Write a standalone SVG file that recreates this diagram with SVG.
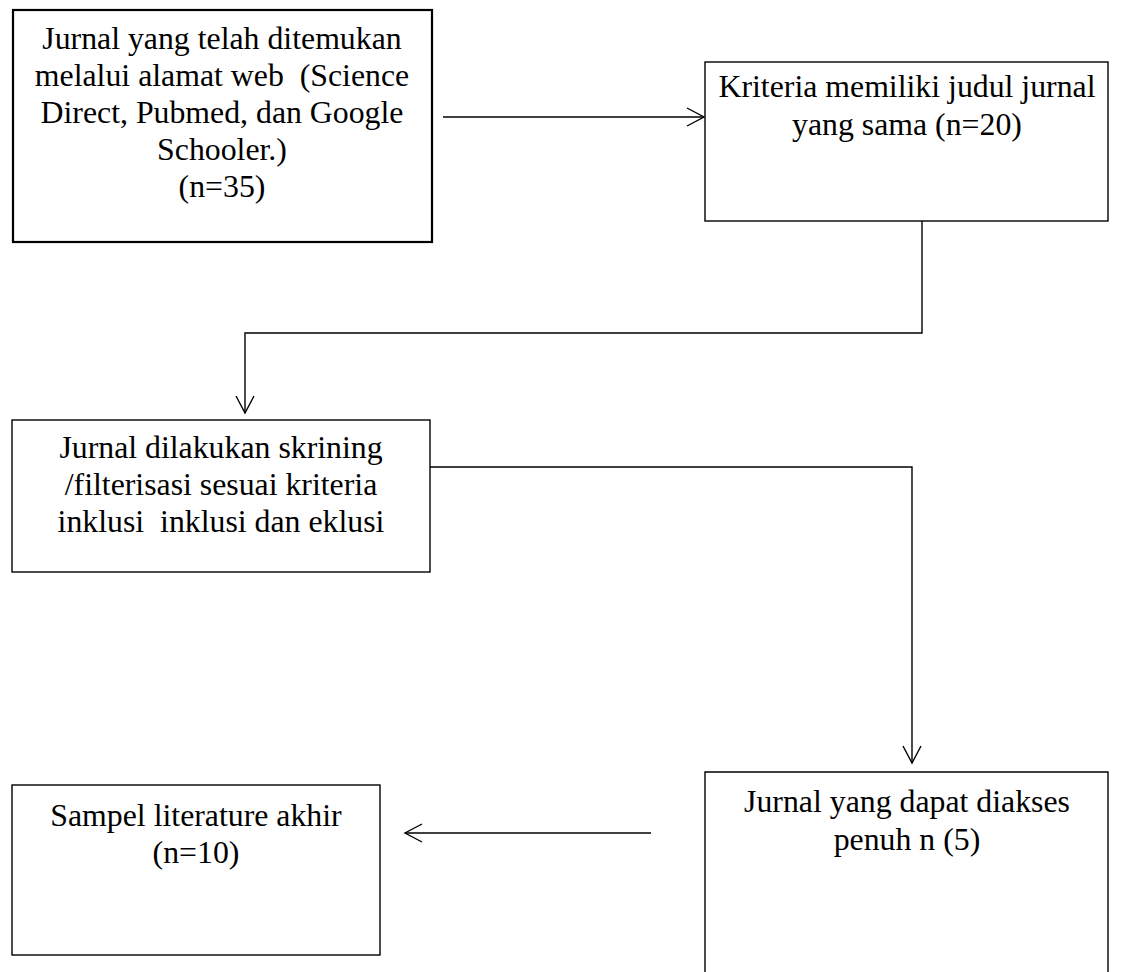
<svg xmlns="http://www.w3.org/2000/svg" width="1133" height="972" viewBox="0 0 1133 972">
<style>
.box{fill:#fff;stroke:#000;stroke-width:1.4}
.thick{stroke-width:2.2}
.t{font-family:"Liberation Serif","Times New Roman",serif;font-size:31.8px;fill:#000;text-anchor:middle}
.c{fill:none;stroke:#000;stroke-width:1.4}
</style>
<defs>
<marker id="ah" viewBox="0 0 20 20" refX="18" refY="10" markerWidth="20" markerHeight="20" markerUnits="userSpaceOnUse" orient="auto">
<path d="M1,1 L18,10 L1,19" fill="none" stroke="#000" stroke-width="1.4"/>
</marker>
</defs>
<rect width="1133" height="972" fill="#fff"/>
<g id="connectors">
<line class="c" x1="443" y1="117" x2="704" y2="117" marker-end="url(#ah)"/>
<polyline class="c" points="922,221 922,333 245,333 245,413" marker-end="url(#ah)"/>
<polyline class="c" points="430,467 912,467 912,763" marker-end="url(#ah)"/>
<line class="c" x1="651" y1="833" x2="405" y2="833" marker-end="url(#ah)"/>
</g>
<g id="node1">
<rect class="box thick" x="13" y="10" width="419" height="232"/>
<text class="t" x="222" y="49">Jurnal yang telah ditemukan</text>
<text class="t" x="222" y="86" xml:space="preserve">melalui alamat web  (Science</text>
<text class="t" x="222" y="123">Direct, Pubmed, dan Google</text>
<text class="t" x="222" y="160">Schooler.)</text>
<text class="t" x="222" y="197">(n=35)</text>
</g>
<g id="node2">
<rect class="box" x="705" y="62" width="403" height="159"/>
<text class="t" x="907" y="97">Kriteria memiliki judul jurnal</text>
<text class="t" x="907" y="135">yang sama (n=20)</text>
</g>
<g id="node3">
<rect class="box" x="12" y="420" width="418" height="152"/>
<text class="t" x="221" y="458">Jurnal dilakukan skrining</text>
<text class="t" x="221" y="495">/filterisasi sesuai kriteria</text>
<text class="t" x="221" y="532" xml:space="preserve">inklusi  inklusi dan eklusi</text>
</g>
<g id="node4">
<path class="box" d="M705,980 L705,772 L1108,772 L1108,980"/>
<text class="t" x="907" y="812">Jurnal yang dapat diakses</text>
<text class="t" x="907" y="850">penuh n (5)</text>
</g>
<g id="node5">
<rect class="box" x="12" y="785" width="368" height="170"/>
<text class="t" x="196" y="826">Sampel literature akhir</text>
<text class="t" x="196" y="863">(n=10)</text>
</g>
</svg>
